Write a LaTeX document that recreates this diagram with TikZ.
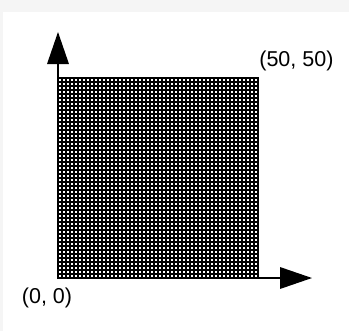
\documentclass[tikz,border=0pt]{standalone}
\usepackage{fontspec}
\setmainfont{Liberation Sans}
\usetikzlibrary{arrows.meta}

\begin{document}
\begin{tikzpicture}[
    line cap=butt,
    line join=miter,
    gridline/.style={line width=0.85pt, black},
    axis/.style={line width=1pt, -{Triangle[length=8mm, width=5.4mm]}},
    corner/.style={font=\fontsize{15.3}{18}\selectfont, inner sep=0pt}
  ]

% picture frame (faint grey border round a white page)
\def\side{5}
\useasboundingbox (-1.45,-1.325) rectangle (7.275,6.95);
\fill[black!4] (-1.45,-1.325) rectangle (7.275,6.95);
\fill[white] (-1.375,-1.325) rectangle (7.275,6.65);

% ============================================================
% 50 x 50 mesh
% ============================================================
\coordinate (O) at (0,0);
\coordinate (C) at (\side,\side);

\draw[gridline] (O) grid[step=0.1] (C);
\draw[line width=1pt] (O) rectangle (C);

% axes
\coordinate (Ytip) at (0,6.15);
\coordinate (Xtip) at (6.35,0);
\draw[axis] (O) -- (Ytip);
\draw[axis] (O) -- (Xtip);

% corner labels
\node[corner] (l0) at (-0.275,-0.50) {(0, 0)};
\node[corner] (l1) at (5.96,5.43) {(50, 50)};

\end{tikzpicture}
\end{document}
